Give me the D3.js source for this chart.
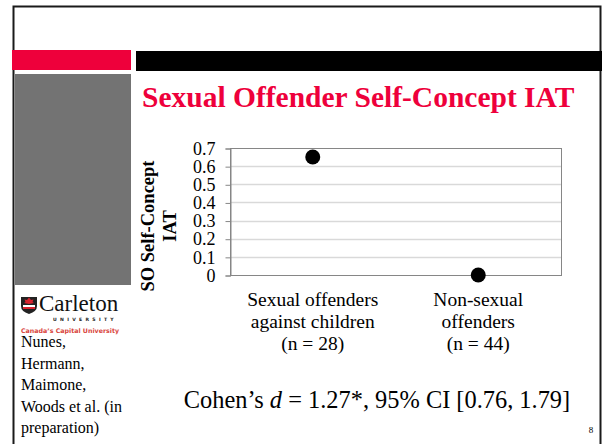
<!DOCTYPE html>
<html lang="en">
<head>
    <meta charset="utf-8">
    <title>SO Self-Concept IAT</title>
    <script src="https://d3js.org/d3.v7.min.js"></script>
    <style type="text/css">
        body { margin: 0; padding: 0; background: #ffffff; }
        svg { display: block; }
    </style>
</head>
<body>
<script type="text/javascript">
    // chart data
    var categories = ["Sexual offenders against children", "Non-sexual offenders"];
    var categoryLines = [["Sexual offenders", "against children", "(n = 28)"],
                         ["Non-sexual", "offenders", "(n = 44)"]];
    var iatMeans = [0.65, 0.0];
    var yTicks = [0, 0.1, 0.2, 0.3, 0.4, 0.5, 0.6, 0.7];
    var authors = ["Nunes,", "Hermann,", "Maimone,", "Woods et al. (in", "preparation)"];

    var W = 602, H = 444;
    var plot = { left: 230, right: 561, top: 148, bottom: 275 };
    var serif = "Liberation Serif, Times New Roman, serif";

    var svg = d3.select("body").append("svg")
        .attr("width", W)
        .attr("height", H);

    // slide frame + decorations
    svg.append("rect").attr("x", 0).attr("y", 0).attr("width", W).attr("height", H).attr("fill", "#fff");
    svg.append("rect").attr("x", 13.5).attr("y", 6.5).attr("width", 587).attr("height", 460)
        .attr("fill", "none").attr("stroke", "#1a1a1a").attr("stroke-width", 2);
    svg.append("rect").attr("x", 12).attr("y", 50).attr("width", 119).attr("height", 20).attr("fill", "#ee003b");
    svg.append("rect").attr("x", 136).attr("y", 51).attr("width", 466).attr("height", 20).attr("fill", "#000");
    svg.append("rect").attr("x", 15).attr("y", 74).attr("width", 116).attr("height", 211).attr("fill", "#737373");

    svg.append("text")
        .attr("x", 142).attr("y", 107)
        .attr("font-family", serif)
        .attr("font-size", "29.5px").attr("font-weight", "bold")
        .attr("fill", "#ee003b")
        .text("Sexual Offender Self-Concept IAT");

    // scales
    var y = d3.scaleLinear().domain([0, 0.7]).range([plot.bottom, plot.top]);
    var x = d3.scaleBand().domain(categories).range([plot.left, plot.right]);

    // gridlines
    svg.append("g").selectAll("line")
        .data(yTicks.filter(function(d){ return d > 0 && d < 0.7; }))
        .enter().append("line")
        .attr("x1", plot.left).attr("x2", plot.right)
        .attr("y1", function(d){ return Math.round(y(d)) + 0.5; })
        .attr("y2", function(d){ return Math.round(y(d)) + 0.5; })
        .attr("stroke", "#d9d9d9").attr("stroke-width", 1.5);

    svg.append("rect")
        .attr("x", plot.left + 0.5).attr("y", plot.top + 0.5)
        .attr("width", plot.right - plot.left).attr("height", plot.bottom - plot.top)
        .attr("fill", "none").attr("stroke", "#868686").attr("stroke-width", 1);

    var yAxis = svg.append("g")
        .attr("transform", "translate(" + (plot.left + 0.5) + ",0.5)")
        .call(d3.axisLeft(y).tickValues(yTicks).tickSize(5).tickPadding(10)
            .tickFormat(function(d){ return d === 0 ? "0" : d.toFixed(1); }));
    yAxis.select(".domain").attr("stroke", "#868686");
    yAxis.selectAll(".tick line").attr("stroke", "#868686");
    yAxis.selectAll("text")
        .attr("font-family", serif)
        .attr("font-size", "18px").attr("fill", "#000");

    // y axis title
    var yTitle = svg.append("text")
        .attr("transform", "translate(154,226) rotate(-90)")
        .attr("text-anchor", "middle")
        .attr("font-family", serif)
        .attr("font-size", "18.5px").attr("font-weight", "bold");
    yTitle.append("tspan").attr("x", 0).attr("dy", 0).text("SO Self-Concept");
    yTitle.append("tspan").attr("x", 0).attr("dy", 22).text("IAT");

    // points
    svg.append("g").selectAll("circle")
        .data(iatMeans)
        .enter().append("circle")
        .attr("cx", function(d, i){ return x(categories[i]) + x.bandwidth() / 2; })
        .attr("cy", function(d){ return y(d); })
        .attr("r", 7.5)
        .attr("fill", "#000");

    // category labels
    svg.append("g").selectAll("text")
        .data(categoryLines)
        .enter().append("text")
        .attr("text-anchor", "middle")
        .attr("font-family", serif)
        .attr("font-size", "19.5px")
        .each(function(lines, i){
            var t = d3.select(this);
            var cx = x(categories[i]) + x.bandwidth() / 2;
            lines.forEach(function(s, j){
                t.append("tspan").attr("x", cx).attr("y", 306 + j * 22).text(s);
            });
        });

    // effect size line
    var eff = svg.append("text")
        .attr("x", 377).attr("y", 408)
        .attr("text-anchor", "middle")
        .attr("font-family", serif)
        .attr("font-size", "24.4px");
    eff.append("tspan").text("Cohen\u2019s ");
    eff.append("tspan").attr("font-style", "italic").text("d");
    eff.append("tspan").text(" = 1.27*, 95% CI [0.76, 1.79]");

    // page number
    svg.append("text").attr("x", 591).attr("y", 433)
        .attr("font-family", serif)
        .attr("text-anchor", "middle").attr("font-size", "9px").text("8");

    // Carleton logo
    var logo = svg.append("g");
    logo.append("path")
        .attr("d", "M21,297 L37,297 L37,306 Q37,311.5 29,314 Q21,311.5 21,306 Z")
        .attr("fill", "#222");
    logo.append("rect").attr("x", 23).attr("y", 305).attr("width", 12).attr("height", 4).attr("fill", "#fff");
    logo.append("rect").attr("x", 23).attr("y", 307).attr("width", 12).attr("height", 2).attr("fill", "#d9232e");
    logo.append("path")
        .attr("d", "M29,297.5 L31,300 L33.5,299.5 L32.5,302 L34,303 L29,304 L24,303 L25.5,302 L24.5,299.5 L27,300 Z")
        .attr("fill", "#d9232e");
    logo.append("text").attr("x", 39).attr("y", 310.5)
        .attr("font-family", serif)
        .attr("font-size", "23px").attr("fill", "#111").text("Carleton");
    logo.append("text").attr("x", 53).attr("y", 320.5)
        .attr("font-family", "DejaVu Sans, sans-serif")
        .attr("font-size", "4.6px").attr("font-weight", "bold")
        .attr("letter-spacing", "3.3px").attr("fill", "#222").text("UNIVERSITY");
    logo.append("text").attr("x", 21).attr("y", 332.5)
        .attr("font-family", "DejaVu Sans, sans-serif")
        .attr("font-size", "6.3px").attr("font-weight", "bold")
        .attr("fill", "#d9443c").text("Canada\u2019s Capital University");

    // citation
    svg.append("g").selectAll("text")
        .data(authors)
        .enter().append("text")
        .attr("x", 21)
        .attr("y", function(d, i){ return 347 + i * 21.5; })
        .attr("font-family", serif)
        .attr("font-size", "16px")
        .text(function(d){ return d; });
</script>
</body>
</html>
